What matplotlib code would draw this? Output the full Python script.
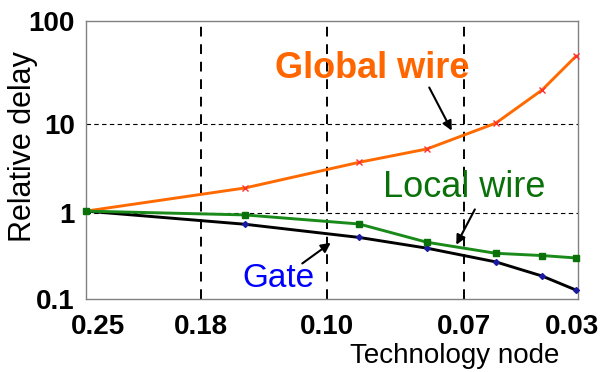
import numpy as np
import matplotlib
matplotlib.use("Agg")
import matplotlib.pyplot as plt

plt.rcParams['font.family'] = ['Liberation Sans', 'DejaVu Sans']

# positions along the node axis (0..100) and the delay values, relative to 0.25 um
x_pos = [0, 32.3, 55.5, 69.3, 83.3, 92.7, 99.6]
global_wire = [1.05, 1.91, 3.71, 5.24, 10.2, 21.4, 45.6]
local_wire = [1.05, 0.95, 0.745, 0.457, 0.34, 0.32, 0.30]
gate = [1.05, 0.74, 0.52, 0.39, 0.27, 0.185, 0.127]

node_labels = ['0.25', '0.18', '0.10', '0.07', '0.03']
node_ticks = [2.4, 23.4, 49.0, 76.9, 98.8]
node_lines = [23.4, 49.0, 76.9]

y_ticks = [0.1, 1, 10, 100]
y_grid = [1, 10]

# the decades in this plot are not evenly spaced, so map them piecewise
dec = [-1, 0, 1, 2]
dec_px = [0, 86, 175, 278]


def fwd(v):
    v = np.clip(np.asarray(v, dtype=float), 1e-4, None)
    return np.interp(np.log10(v), dec, dec_px)


def inv(p):
    return 10 ** np.interp(np.asarray(p, dtype=float), dec_px, dec)


fig = plt.figure(figsize=(6.04, 3.72), dpi=100)
ax = fig.add_axes([86 / 604, 1 - 299 / 372, 492 / 604, 278 / 372])
ax.set_yscale('function', functions=(fwd, inv))
ax.set_xlim(0, 100)
ax.set_ylim(0.1, 100)

for g in y_grid:
    ax.axhline(g, color='black', lw=0.8, ls=(0, (4, 3)), zorder=1)
for xl in node_lines:
    ax.axvline(xl, color='black', lw=1.4, ls=(0, (5, 4)), zorder=1)

ax.plot(x_pos, global_wire, color='#FF6A00', lw=2.1, marker='x', ms=4,
        mec='#FF3030', mew=1.0, clip_on=False, zorder=3)
ax.plot(x_pos, gate, color='black', lw=2.1, marker='D', ms=3,
        mfc='#1A1AA0', mec='#1A1AA0', clip_on=False, zorder=3)
ax.plot(x_pos, local_wire, color='#1A8A1A', lw=2.1, marker='s', ms=5,
        mfc='#0A700A', mec='#0A700A', clip_on=False, zorder=4)

ax.set_yticks(y_ticks)
ax.set_yticklabels(['0.1', '1', '10', '100'])
ax.set_xticks(node_ticks)
ax.set_xticklabels(node_labels)
ax.yaxis.set_minor_locator(matplotlib.ticker.NullLocator())
ax.tick_params(axis='both', length=0, labelsize=20)
ax.tick_params(axis='y', pad=8)
ax.tick_params(axis='x', pad=11)
for lab in ax.get_xticklabels() + ax.get_yticklabels():
    lab.set_fontweight('bold')

for s in ax.spines.values():
    s.set_color('#808080')
    s.set_linewidth(1.0)

# curve labels and arrows
ax.text(38.4, 28, 'Global wire', color='#FF6600', fontsize=26,
        fontweight='bold', ha='left', va='baseline')
ax.text(60.4, 1.53, 'Local wire', color='#0A700A', fontsize=26,
        ha='left', va='baseline')
ax.text(31.7, 0.138, 'Gate', color='#0000FF', fontsize=24,
        ha='left', va='baseline')

arrow = dict(arrowstyle='-|>', color='black', lw=1.5, mutation_scale=14)
ax.annotate('', xy=(74.6, 7.9), xytext=(69.5, 23.9), arrowprops=arrow)
ax.annotate('', xy=(75.0, 0.40), xytext=(79.3, 1.17), arrowprops=arrow)
ax.annotate('', xy=(50.2, 0.47), xytext=(43.5, 0.248), arrowprops=arrow)

fig.text(23 / 604, 1 - 147 / 372, 'Relative delay', rotation=90,
         fontsize=22, ha='center', va='center')
fig.text(455 / 604, 1 - 363 / 372, 'Technology node', fontsize=20,
         ha='center', va='baseline')

fig.savefig('out.png', dpi=100)
